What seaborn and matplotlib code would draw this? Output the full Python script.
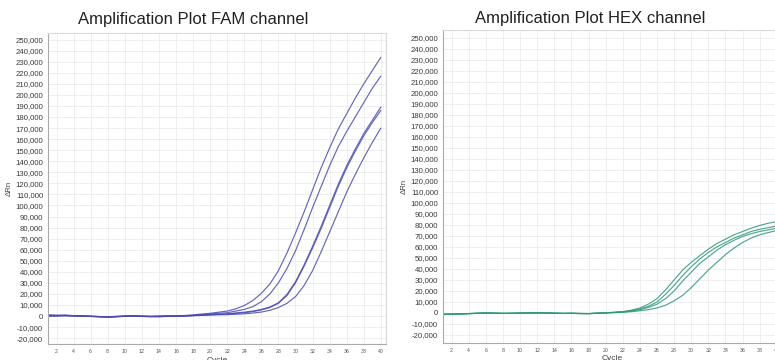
import matplotlib
matplotlib.use("Agg")
import matplotlib.pyplot as plt
import matplotlib.ticker as mticker
import seaborn as sns
import pandas as pd

# --- data ---
cycles = list(range(1, 41))

fam_a = [800, 600, 900, 300, 100, -200, -500, -700, -400, 0, 200, -200, -300, 100, 300, 200, 500, 1000, 1800, 2500,
         3500, 4500, 6500, 9500, 14000, 20500, 29000, 41000, 57000, 75000, 94000, 114000, 134000, 152000, 169000,
         183000, 197000, 210000, 222000, 234000]
fam_b = [500, 300, 200, 0, -100, -300, -600, -800, -500, -200, 0, -300, -400, -200, 0, 100, 300, 700, 1200, 1800,
         2500, 3000, 4500, 6000, 8500, 13000, 20000, 30000, 43000, 59000, 78000, 98000, 117000, 136000, 153000,
         167000, 180000, 193000, 206000, 217000]
fam_c = [-200, 0, 400, 200, 0, -400, -700, -1000, -600, -300, -100, -400, -600, -500, -300, -100, 100, 400, 800, 1200,
         1600, 2000, 2800, 3500, 4500, 6000, 8200, 12000, 19500, 31000, 46000, 63000, 81000, 100000, 119000,
         136000, 151000, 165000, 177000, 189000]
fam_d = [300, 100, 600, 400, 200, -100, -400, -900, -700, -200, 100, -100, -500, -600, -200, 0, 200, 500, 900, 1300,
         1500, 1800, 2400, 3000, 4000, 5500, 7700, 11500, 18500, 30000, 45000, 61500, 79000, 98000, 117000,
         134000, 149000, 163000, 175000, 186000]
fam_e = [1000, 700, 500, 300, 0, -300, -500, -600, -300, 100, 300, 0, -200, -400, -400, -200, 0, 300, 600, 900,
         1100, 1300, 1600, 2000, 2700, 3600, 5200, 7700, 11500, 17500, 27500, 41000, 58000, 76000, 94000,
         112000, 128000, 143000, 157000, 170000]

hex_a = [-1200, -1000, -800, -600, -300, 0, -200, -400, -300, -100, 0, 100, 0, -200, -400, -300, -500, -600, -200, 200,
         600, 1200, 2500, 4500, 8000, 13000, 21000, 30000, 39000, 46000, 52000, 58000, 63000, 67000, 71000,
         74000, 77000, 79500, 81500, 83000]
hex_b = [-1500, -1200, -1000, -700, -400, -100, -300, -500, -400, -200, -100, 0, -100, -300, -500, -400, -600, -700, -300, 0,
         500, 1000, 2000, 3500, 6000, 10000, 17000, 25000, 34000, 42000, 49000, 55000, 60000, 64000, 68000,
         71000, 74000, 76000, 77500, 79000]
hex_c = [-1000, -900, -700, -500, -200, 100, -100, -300, -200, 0, 100, 200, 100, -100, -300, -200, -400, -500, -100, 200,
         500, 900, 1700, 3000, 5000, 8000, 13000, 20000, 29000, 37000, 45000, 51000, 57000, 62000, 66000,
         69500, 72000, 74000, 75500, 77000]
hex_d = [-1300, -1100, -900, -600, -300, 0, -200, -400, -300, -100, 0, 100, 0, -200, -400, -300, -500, -600, -300, 0,
         300, 600, 1100, 2000, 3000, 4500, 7000, 11000, 16000, 23000, 31000, 39000, 46000, 53000, 59000,
         64000, 68000, 71000, 73000, 75000]

fam_curves = [fam_a, fam_b, fam_c, fam_d, fam_e]
hex_curves = [hex_a, hex_b, hex_c, hex_d]

y_ticks = list(range(-20000, 250001, 10000))
x_ticks = list(range(2, 41, 2))

sns.set_style("whitegrid")
plt.rcParams["font.family"] = ["Liberation Sans", "DejaVu Sans"]

fig = plt.figure(figsize=(7.75, 3.6), dpi=100)
ax1 = fig.add_axes([0.0619, 0.0444, 0.4361, 0.8639])
ax2 = fig.add_axes([0.5716, 0.0481, 0.4374, 0.8686])


def dibujar(ax, curvas, color, ylim):
    filas = []
    for i, c in enumerate(curvas):
        for x, y in zip(cycles, c):
            filas.append({"Cycle": x, "dRn": y, "pozo": i})
    df = pd.DataFrame(filas)
    sns.lineplot(data=df, x="Cycle", y="dRn", units="pozo", estimator=None,
                 color=color, linewidth=0.85, alpha=0.85, ax=ax)
    ax.set_xlim(1, 40.6)
    ax.set_ylim(*ylim)
    ax.set_xticks(x_ticks)
    ax.set_yticks(y_ticks)
    ax.yaxis.set_major_formatter(mticker.FuncFormatter(lambda v, p: f"{int(v):,}"))
    ax.tick_params(axis="y", labelsize=5.6, colors="#3a3a3a", length=2, width=0.5, pad=1.5)
    ax.tick_params(axis="x", labelsize=3.8, colors="#555555", length=1.5, width=0.5, pad=2)
    ax.grid(True, color="#ededed", linewidth=0.6)
    for s in ax.spines.values():
        s.set_color("#dadada")
        s.set_linewidth(0.8)
    ax.spines["left"].set_color("#aaaaaa")
    ax.spines["bottom"].set_color("#aaaaaa")
    ax.set_xlabel("Cycle", fontsize=6, color="#444444", labelpad=2)
    ax.set_ylabel("ΔRn", fontsize=5.6, color="#444444", labelpad=2)


dibujar(ax1, fam_curves, "#4a4ab4", (-25300, 256000))
dibujar(ax2, hex_curves, "#2f9a74", (-27000, 257000))

fig.text(0.249, 0.945, "Amplification Plot FAM channel", ha="center", va="center", fontsize=12, color="#222222")
fig.text(0.761, 0.95, "Amplification Plot HEX channel", ha="center", va="center", fontsize=12, color="#222222")

fig.savefig("out.png", dpi=100)
